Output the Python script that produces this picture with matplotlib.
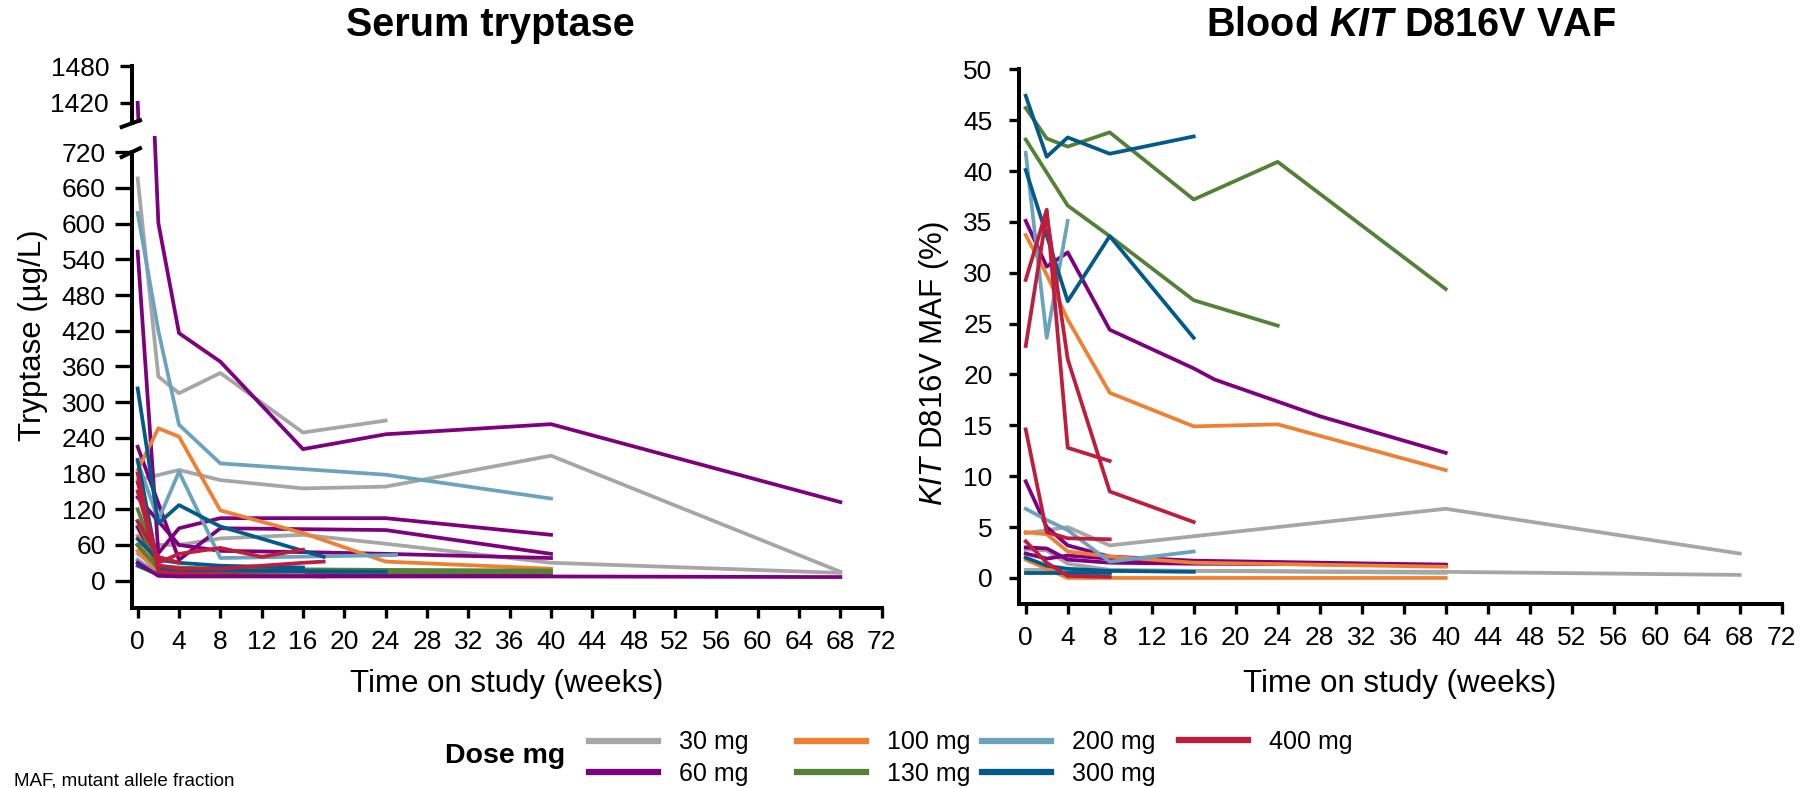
import matplotlib
matplotlib.use("Agg")
import matplotlib.pyplot as plt
from matplotlib.lines import Line2D

plt.rcParams['font.family'] = ['Liberation Sans', 'DejaVu Sans']
plt.rcParams['mathtext.fontset'] = 'custom'
plt.rcParams['mathtext.rm'] = 'Liberation Sans'
plt.rcParams['mathtext.it'] = 'Liberation Sans:italic'
plt.rcParams['mathtext.bf'] = 'Liberation Sans:bold'
plt.rcParams['mathtext.bfit'] = 'Liberation Sans:italic:bold'

# ---------------- data ----------------
dose_labels = ['30 mg', '60 mg', '100 mg', '130 mg', '200 mg', '300 mg', '400 mg']
dose_colors = ['#A6A6A6', '#7F007F', '#F07F32', '#538135', '#6BA3BE', '#005A8C', '#BE1E3C']

x_ticks = list(range(0, 73, 4))
tryp_ticks_low = list(range(0, 721, 60))
tryp_ticks_high = [1420, 1480]
vaf_ticks = list(range(0, 51, 5))

# Serum tryptase (ug/L): (weeks, values) per patient
tryp_30 = [
    ([0, 2, 4, 8, 16, 24], [676, 343, 315, 349, 249, 269]),
    ([0, 4, 8, 16, 24, 40, 68], [169, 186, 169, 155, 158, 210, 15]),
    ([0, 4, 8, 16, 24, 40, 68], [60, 60, 71, 77, 62, 30, 13]),
    ([0, 2, 4, 8, 16, 24, 40], [45, 20, 18, 17, 16, 16, 15]),
    ([0, 2, 4, 8, 16], [30, 14, 12, 12, 11]),
]
tryp_60 = [
    ([0, 2, 4, 8, 16, 24, 40, 68], [1420, 601, 416, 368, 221, 246, 263, 132]),
    ([0, 2, 4, 8, 24, 40], [553, 46, 88, 105, 105, 77]),
    ([0, 2, 4, 8, 24, 40], [225, 130, 35, 88, 85, 45]),
    ([0, 2, 4, 8, 16, 24, 40], [140, 100, 60, 50, 48, 45, 38]),
    ([0, 2, 4, 8, 16, 24, 40], [60, 15, 12, 11, 10, 10, 9]),
    ([0, 2, 4, 8, 16], [90, 22, 20, 19, 18]),
]
tryp_100 = [
    ([0, 2, 4, 8, 16, 24, 40], [186, 256, 242, 118, 80, 32, 20]),
    ([0, 2, 4, 8, 16, 24, 40], [75, 20, 18, 17, 16, 16, 14]),
    ([0, 2, 4, 8, 16], [50, 12, 10, 10, 9]),
]
tryp_130 = [
    ([0, 2, 4, 8, 16, 24, 40], [120, 25, 22, 20, 19, 18, 17]),
    ([0, 2, 4, 8, 16, 24, 40], [100, 18, 16, 15, 15, 14, 14]),
    ([0, 2, 4, 8, 16], [60, 20, 18, 17, 16]),
]
tryp_200 = [
    ([0, 2, 4, 8, 24, 40], [618, 420, 262, 197, 178, 138]),
    ([0, 2, 4, 8, 25], [200, 102, 183, 38, 43]),
    ([0, 2, 4, 8, 16], [35, 10, 9, 9, 9]),
]
tryp_300 = [
    ([0, 2, 4, 8, 16, 18], [323, 96, 127, 91, 50, 40]),
    ([0, 2, 4, 8, 16, 24], [203, 20, 18, 17, 16, 15]),
    ([0, 2, 4], [25, 10, 9]),
    ([0, 2, 4, 8, 16], [70, 35, 30, 25, 22]),
]
tryp_400 = [
    ([0, 2, 4, 8, 12, 16], [165, 30, 45, 55, 40, 52]),
    ([0, 2, 4, 8, 16, 18], [150, 25, 20, 20, 30, 32]),
    ([0, 2, 4, 8, 16, 18], [180, 15, 12, 10, 8, 7]),
    ([0, 2, 4], [100, 40, 30]),
]
tryp_60_low = [
    ([0, 2, 4, 8, 16, 24, 40, 68], [30, 8, 7, 7, 7, 7, 7, 6]),
]

# Blood KIT D816V VAF (%)
vaf_30 = [
    ([0, 2, 4, 8, 40, 68], [4.4, 4.7, 5.0, 3.2, 6.8, 2.4]),
    ([0, 2, 4, 8, 16, 40, 68], [2.8, 2.7, 1.4, 0.8, 0.7, 0.6, 0.3]),
    ([0, 2, 4, 8, 16, 40], [0.8, 0.8, 0.7, 0.7, 0.7, 0.5]),
]
vaf_60 = [
    ([0, 2, 4, 8, 16, 18, 28, 40], [35.1, 30.6, 32.0, 24.4, 20.6, 19.5, 15.9, 12.3]),
    ([0, 2, 4, 8, 16, 40], [9.5, 5.0, 3.2, 2.1, 1.7, 1.3]),
    ([0, 2, 4, 8, 16, 40], [2.4, 1.9, 2.2, 1.9, 1.5, 1.2]),
    ([0, 2, 4, 8, 16, 40], [3.0, 2.9, 1.8, 1.5, 1.4, 1.3]),
]
vaf_100 = [
    ([0, 2, 4, 8, 16, 24, 40], [33.7, 29.8, 25.4, 18.2, 14.9, 15.1, 10.6]),
    ([0, 2, 4, 8, 16, 40], [4.5, 4.3, 2.6, 2.1, 1.5, 1.1]),
    ([0, 2, 4, 8, 16, 40], [1.8, 0.9, 0.0, 0.0, 0.0, 0.0]),
]
vaf_130 = [
    ([0, 2, 4, 8, 16, 24, 40], [46.2, 43.2, 42.4, 43.8, 37.2, 40.9, 28.4]),
    ([0, 4, 8, 16, 24], [43.1, 36.6, 33.6, 27.3, 24.8]),
]
vaf_200 = [
    ([0, 2, 4], [41.8, 23.6, 35.1]),
    ([0, 2, 4, 8, 16], [6.8, 5.7, 4.7, 1.6, 2.6]),
]
vaf_300 = [
    ([0, 2, 4, 8, 16], [47.4, 41.4, 43.3, 41.7, 43.4]),
    ([0, 4, 8, 16], [40.1, 27.2, 33.6, 23.6]),
    ([0, 2, 4, 8, 16], [2.0, 1.2, 0.9, 0.7, 0.6]),
    ([0, 2, 4, 8], [0.5, 0.5, 0.5, 0.5]),
]
vaf_400 = [
    ([0, 2, 4, 8], [29.3, 36.2, 12.8, 11.5]),
    ([0, 2, 4, 8, 16], [22.8, 35.8, 21.5, 8.5, 5.5]),
    ([0, 2, 4, 8], [14.6, 4.5, 3.9, 3.8]),
    ([0, 2, 4, 8], [3.6, 1.5, 0.2, 0.1]),
]

tryp_groups = [tryp_30, tryp_60, tryp_100, tryp_130, tryp_200, tryp_300, tryp_400]
vaf_groups = [vaf_30, vaf_60, vaf_100, vaf_130, vaf_200, vaf_300, vaf_400]

# ---------------- layout ----------------
W, H = 1812, 788
fig = plt.figure(figsize=(W / 100, H / 100), dpi=100)


def frac(x0, y0, x1, y1):
    return [x0 / W, 1 - y1 / H, (x1 - x0) / W, (y1 - y0) / H]


ax_lo = fig.add_axes(frac(132, 135.6, 881.7, 608))
ax_up = fig.add_axes(frac(132, 65, 881.7, 123))
ax_r = fig.add_axes(frac(1019, 64, 1781.7, 604))

LW = 2.7
TICK_FS = 19
SPINE_LW = 2.9

for ax in (ax_lo, ax_up, ax_r):
    ax.set_facecolor('none')
    ax.spines['top'].set_visible(False)
    ax.spines['right'].set_visible(False)
    ax.spines['left'].set_linewidth(SPINE_LW)
    ax.spines['bottom'].set_linewidth(SPINE_LW)

for color, group in zip(dose_colors, tryp_groups):
    for wk, val in group:
        ax_lo.plot(wk, val, color=color, lw=LW)
        ax_up.plot(wk, val, color=color, lw=LW)
for wk, val in tryp_60_low:
    ax_lo.plot(wk, val, color=dose_colors[1], lw=LW)

for color, group in zip(dose_colors, vaf_groups):
    for wk, val in group:
        ax_r.plot(wk, val, color=color, lw=LW)

# lower tryptase axis
ax_lo.set_xlim(-0.55, 72)
ax_lo.set_ylim(-46, 748)
ax_lo.spines['left'].set_bounds(-46, 720)
ax_lo.spines['bottom'].set_bounds(-0.55, 72)
ax_lo.set_yticks(tryp_ticks_low)
ax_lo.set_xticks(x_ticks)
ax_lo.tick_params(axis='y', length=12, width=2.4, pad=7, labelsize=TICK_FS)
ax_lo.tick_params(axis='x', length=7, width=2.4, pad=9, labelsize=TICK_FS)

# upper tryptase axis
ax_up.set_xlim(-0.55, 72)
ax_up.set_ylim(1387, 1482)
ax_up.spines['bottom'].set_visible(False)
ax_up.spines['left'].set_bounds(1387, 1480)
ax_up.set_xticks([])
ax_up.set_yticks(tryp_ticks_high)
ax_up.tick_params(axis='y', length=8.5, width=2.4, pad=8, labelsize=TICK_FS)

# VAF axis
ax_r.set_xlim(-0.64, 72)
ax_r.set_ylim(-2.56, 50.52)
ax_r.spines['left'].set_bounds(-2.56, 50)
ax_r.spines['bottom'].set_bounds(-0.64, 72)
ax_r.set_yticks(vaf_ticks)
ax_r.set_xticks(x_ticks)
ax_r.tick_params(axis='y', length=7, width=2.4, pad=12, labelsize=TICK_FS)
ax_r.tick_params(axis='x', length=7, width=2.4, pad=9, labelsize=TICK_FS)

# axis break marks
for (x0, y0, x1, y1) in [(121.7, 157, 140, 148.3), (121.7, 127, 140, 120.3)]:
    fig.add_artist(Line2D([x0 / W, x1 / W], [1 - y0 / H, 1 - y1 / H],
                          color='black', lw=SPINE_LW, transform=fig.transFigure))

# titles & labels
fig.text(490 / W, 1 - 36.5 / H, 'Serum tryptase', ha='center', va='baseline',
         fontsize=28.5, fontweight='bold')
fig.text(1411 / W, 1 - 36.5 / H, r'Blood $\mathbfit{KIT}$ D816V VAF', ha='center',
         va='baseline', fontsize=28.5, fontweight='bold')
fig.text(33 / W, 1 - 335 / H, 'Tryptase (µg/L)', rotation=90, ha='center',
         va='center', fontsize=22.5)
fig.text(934 / W, 1 - 364 / H, r'$\mathit{KIT}$ D816V MAF (%)', rotation=90,
         ha='center', va='center', fontsize=22.5)
fig.text(507 / W, 1 - 684 / H, 'Time on study (weeks)', ha='center', va='center',
         fontsize=22.5)
fig.text(1400 / W, 1 - 684 / H, 'Time on study (weeks)', ha='center', va='center',
         fontsize=22.5)

# legend: one column per legend box, placed where the reference has them
legend_col_x = [589, 797, 982, 1179]
for c, x in enumerate(legend_col_x):
    idx = [i for i in (2 * c, 2 * c + 1) if i < len(dose_labels)]
    hs = [Line2D([], [], color=dose_colors[i], lw=4.5) for i in idx]
    ls = [dose_labels[i] for i in idx]
    yc = 758 if len(idx) == 2 else 742
    fig.legend(hs, ls, ncol=1, loc='center left',
               bbox_to_anchor=(x / W, 1 - yc / H), frameon=False, fontsize=18,
               handlelength=2.75, handletextpad=0.85,
               labelspacing=0.3, borderpad=0, borderaxespad=0)
fig.text(445 / W, 1 - 756 / H, 'Dose mg', ha='left', va='center', fontsize=20.5,
         fontweight='bold')

fig.text(14 / W, 1 - 785 / H, 'MAF, mutant allele fraction', ha='left',
         va='baseline', fontsize=13.5)

fig.savefig('out.png', dpi=100)
